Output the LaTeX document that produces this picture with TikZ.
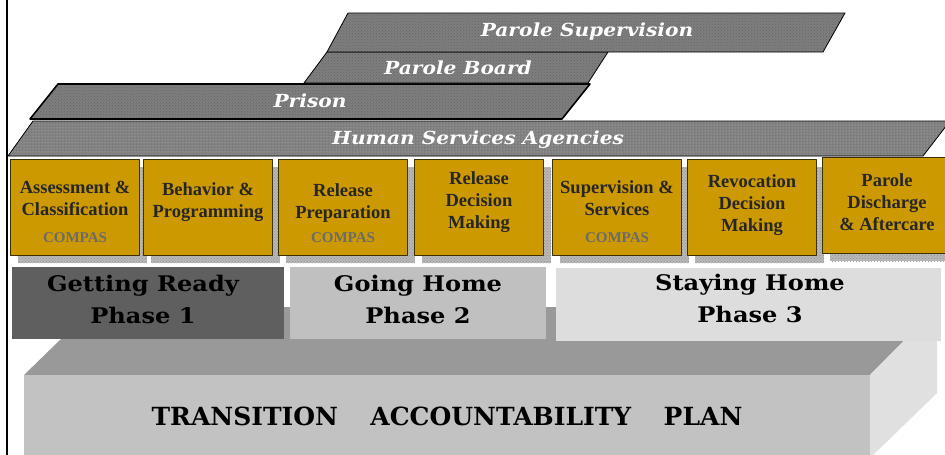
\documentclass[tikz,border=0pt]{standalone}
\usepackage{fontspec}
\setmainfont{Liberation Serif}
\newfontfamily\bookfont{DejaVu Serif}
\newfontfamily\widebook{DejaVu Serif}[FakeStretch=1.12]
\usetikzlibrary{patterns}
\definecolor{boxgold}{HTML}{CC9900}
\definecolor{boxedge}{HTML}{3A3000}
\definecolor{bandgrey}{HTML}{7E7E7E}
\definecolor{dotgrey}{HTML}{666666}
\definecolor{lightdot}{HTML}{C8C8C8}
\definecolor{shadegrey}{HTML}{B8B8B8}
\definecolor{compasgrey}{HTML}{6B6B6B}
\definecolor{phaseone}{HTML}{5F5F5F}
\definecolor{phasetwo}{HTML}{C0C0C0}
\definecolor{phasethree}{HTML}{DDDDDD}
\definecolor{blocktop}{HTML}{999999}
\definecolor{blockfront}{HTML}{C2C2C2}
\definecolor{blockside}{HTML}{E0E0E0}
\begin{document}
\begin{tikzpicture}[x=1pt, y=-1pt, line join=round,
    band/.style={preaction={fill=bandgrey}, pattern=crosshatch dots, pattern color=dotgrey, draw=black, line width=0.8pt},
    bandtext/.style={text=white, font=\widebook\bfseries\itshape\fontsize{18}{20}\selectfont},
    stagebox/.style={draw=boxedge, line width=0.8pt, fill=boxgold},
    stagetext/.style={align=center, text=black!85, font=\bfseries\fontsize{18.5}{22}\selectfont},
    compas/.style={text=compasgrey, font=\bfseries\fontsize{15}{15}\selectfont},
    phasetext/.style={align=center, font=\widebook\bfseries\fontsize{21.5}{32}\selectfont}]
  \useasboundingbox (0,0) rectangle (945,455);
  \clip (0,0) rectangle (945,455);
  \fill[white] (0,0) rectangle (945,455);
  % foundation block
  \fill[blocktop] (24,375) -- (94,307) -- (937,307) -- (870,375) -- cycle;
  \fill[blockside] (870,375) -- (937,307) -- (937,393) -- (870,458) -- cycle;
  \fill[blockfront] (24,375) rectangle (870,460);
  \node[font=\bookfont\bfseries\fontsize{25}{30}\selectfont] (plan) at (447,416)
    {TRANSITION\hspace{1.3em}ACCOUNTABILITY\hspace{1.3em}PLAN};
  % phases
  \fill[phaseone] (12,267) rectangle (284,339);
  \fill[phasetwo] (290,267) rectangle (546,339);
  \fill[phasethree] (556,268) rectangle (941,341);
  \node[phasetext] (phase1) at (143,299) {Getting Ready\\Phase 1};
  \node[phasetext] (phase2) at (418,299) {Going Home\\Phase 2};
  \node[phasetext] (phase3) at (750,298) {Staying Home\\Phase 3};
  % stages
  \foreach \x/\yt/\yc/\txt/\tag [count=\i] in {
      10/159/198.5/{Assessment \&\\Classification}/1,
      143/159/202/{Behavior \&\\Programming}/0,
      278/159/203.5/{Release\\Preparation}/1,
      414/159/202/{Release\\Decision\\Making}/0,
      552/159/198.5/{Supervision \&\\Services}/1,
      687/159/205.5/{Revocation\\Decision\\Making}/0,
      822/157/202/{Parole\\Discharge\\\& Aftercare}/0}{
    \fill[shadegrey, postaction={pattern=crosshatch dots, pattern color=shadegrey!80!black}]
      (\x+8,\yt+8) rectangle (\x+137,\yt+104);
    \draw[stagebox] (\x,\yt) rectangle (\x+129,\yt+96);
    \node[stagetext] (stage\i) at (\x+65,\yc) {\txt};
    \ifnum\tag=1 \node[compas] (compas\i) at (\x+65,237.5) {COMPAS}; \fi
  }
  % agencies
  \draw[band, preaction={fill=bandgrey}, pattern=dots, pattern color=lightdot] (33,121) -- (950,121) -- (923,156) -- (8,156) -- cycle;
  \draw[band, line width=1.6pt] (58,84) -- (590,84) -- (562,119) -- (30,119) -- cycle;
  \draw[band] (327,52) -- (608,52) -- (588,83) -- (304,83) -- cycle;
  \draw[band] (348,13) -- (845,13) -- (823,52) -- (327,52) -- cycle;
  \node[bandtext] (human) at (478,140) {Human Services Agencies};
  \node[bandtext] (prison) at (310,101) {Prison};
  \node[bandtext] (board) at (458,68) {Parole Board};
  \node[bandtext] (parole) at (587,32) {Parole Supervision};
  % frame
  \draw[line width=2pt] (7,0) -- (7,455);
\end{tikzpicture}
\end{document}
